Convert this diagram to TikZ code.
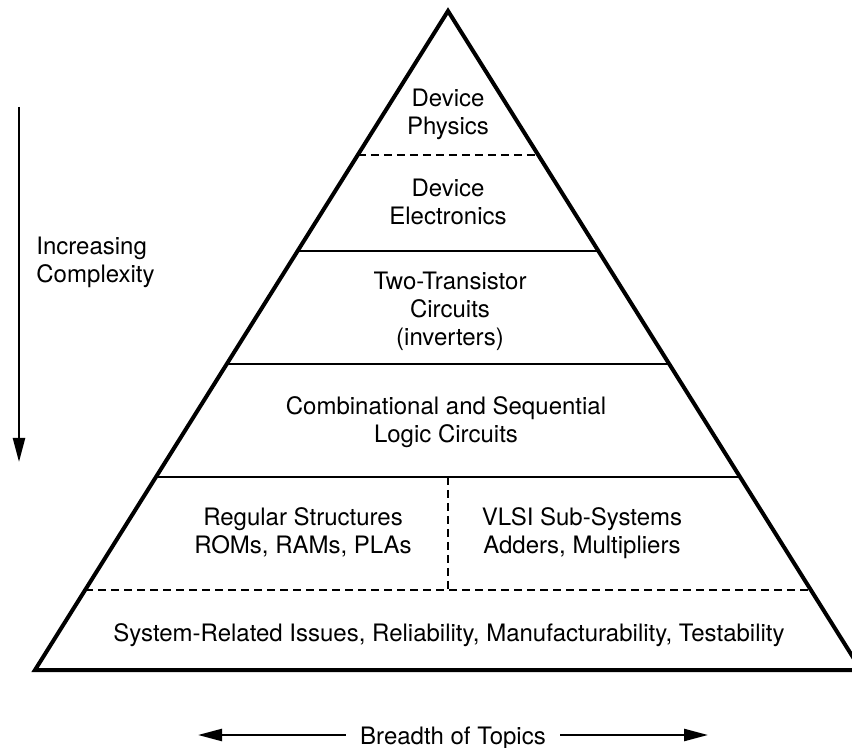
\documentclass[tikz,border=0pt]{standalone}
\usepackage{fontspec}
\setmainfont{TeX Gyre Heros}
\usetikzlibrary{arrows.meta,calc}
\begin{document}
\begin{tikzpicture}[x=0.5pt,y=-0.5pt,
  tri/.style={line width=2pt, line join=miter},
  sep/.style={line width=1pt},
  dsep/.style={line width=1pt, dash pattern=on 4pt off 2.5pt},
  lbl/.style={font=\fontsize{12}{14}\selectfont, align=center, inner sep=0pt},
  arr/.style={line width=1.2pt, -{Triangle[length=12pt,width=6pt]}}]
\useasboundingbox (0,0) rectangle (852,748);
\clip (0,0) rectangle (852,748);
\coordinate (apex) at (448,11);
\coordinate (bl) at (35,670);
\coordinate (br) at (861,670);
\draw[tri] (apex) -- (bl) -- (br) -- cycle;
% level lines
\coordinate (l1) at ($(apex)!0.2185!(bl)$); \coordinate (r1) at ($(apex)!0.2185!(br)$);
\coordinate (l2) at ($(apex)!0.3642!(bl)$); \coordinate (r2) at ($(apex)!0.3642!(br)$);
\coordinate (l3) at ($(apex)!0.5357!(bl)$); \coordinate (r3) at ($(apex)!0.5357!(br)$);
\coordinate (l4) at ($(apex)!0.7071!(bl)$); \coordinate (r4) at ($(apex)!0.7071!(br)$);
\coordinate (l5) at ($(apex)!0.8786!(bl)$); \coordinate (r5) at ($(apex)!0.8786!(br)$);
\draw[dsep] (l1) -- (r1);
\draw[sep] (l2) -- (r2);
\draw[sep] (l3) -- (r3);
\draw[sep] (l4) -- (r4);
\draw[dsep] (l5) -- (r5);
\coordinate (m4) at (448,477);
\coordinate (m5) at (448,590);
\draw[dsep] (m4) -- (m5);
% labels
\node[lbl] (phys) at (448,115) {\strut Device\\\strut Physics};
\node[lbl] (elec) at (448,205) {\strut Device\\\strut Electronics};
\node[lbl] (two) at (450,312) {\strut Two-Transistor\\\strut Circuits\\\strut (inverters)};
\node[lbl] (comb) at (446,423) {\strut Combinational and Sequential\\\strut Logic Circuits};
\node[lbl] (reg) at (303,534) {\strut Regular Structures\\\strut ROMs, RAMs, PLAs};
\node[lbl] (vlsi) at (582,534) {\strut VLSI Sub-Systems\\\strut Adders, Multipliers};
\node[lbl] (sys) at (449,636) {\strut System-Related Issues, Reliability, Manufacturability, Testability};
\node[lbl, align=left, anchor=west] (inc) at (36,263) {\strut Increasing\\\strut Complexity};
% complexity arrow
\coordinate (vtop) at (19,107);
\coordinate (vbot) at (19,462);
\draw[arr] (vtop) -- (vbot);
% breadth arrow
\node[lbl, text height=9.5pt, text depth=0.5pt, inner xsep=7pt] (breadth) at (453,735) {Breadth of Topics};
\coordinate (ltip) at (198,735);
\coordinate (rtip) at (708,735);
\draw[arr] (breadth.west) -- (ltip);
\draw[arr] (breadth.east) -- (rtip);
\end{tikzpicture}
\end{document}
